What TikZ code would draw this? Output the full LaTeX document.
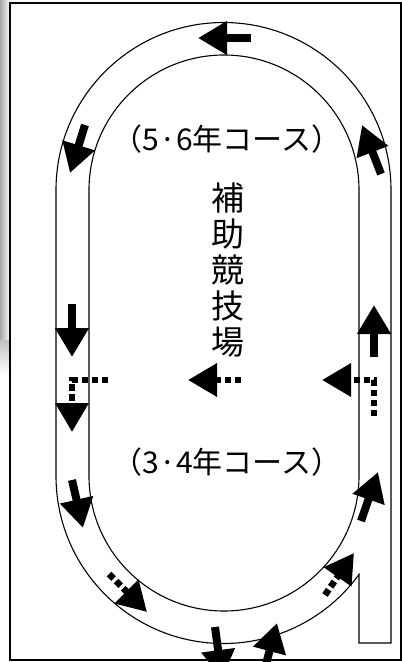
\documentclass[tikz,border=0pt]{standalone}
\usepackage{fontspec}
\newfontfamily\jp{Noto Sans CJK JP}
\usetikzlibrary{arrows.meta}
\tikzset{
  runarrow/.style={line width=8pt,-{Triangle[length=29pt,width=32pt]}},
  dotarrow/.style={line width=6.5pt,dash pattern=on 6.5pt off 3.5pt,-{Triangle[length=29pt,width=32pt]}},
  course/.style={font=\jp\fontsize{30}{36}\selectfont,inner sep=0pt},
}
\begin{document}
\begin{tikzpicture}[x=1pt,y=1pt,yscale=-1,line width=1.1pt]
\useasboundingbox (0,0) rectangle (402,662);
% shadow on the left edge
\shade[left color=black!35,right color=white] (0,0) rectangle (10,340);
\shade[top color=black!25,bottom color=white] (0,340) rectangle (10,375);
% frame
\draw[line width=1.6pt] (10,3) rectangle (401,660);
% track
\draw (391,643) -- (391,190) arc[start angle=0,end angle=-180,radius=167.5] -- (56,476) arc[start angle=180,end angle=36,radius=167.5] -- (359,643) -- cycle;
\draw (359,190) arc[start angle=0,end angle=-180,radius=135] -- (89,476) arc[start angle=180,end angle=0,radius=135] -- cycle;
% labels
\node[course] (upper) at (227,139) {（5·6年コース）};
\node[course] (lower) at (227,462) {（3·4年コース）};
\node[font=\jp\fontsize{33}{36}\selectfont,align=center,inner sep=0pt] (field) at (228,270) {補\\助\\競\\技\\場};
% arrows
\draw[runarrow] (251,38) -- (198,38);
\draw[runarrow] (85,125) -- (70,173);
\draw[runarrow] (381,174) -- (362,125);
\draw[runarrow] (72,304) -- (72,357);
\draw[runarrow] (374,357) -- (374,305);
\draw[runarrow] (72,480) -- (83,528);
\draw[runarrow] (361,521) -- (378,472);
\draw[runarrow] (215,627) -- (222,679);
\draw[runarrow] (265,668) -- (277,623);
\draw[dotarrow] (108,380) -- (72,380) -- (72,432);
\draw[dotarrow] (241,380) -- (188,380);
\draw[dotarrow] (374,416) -- (374,380) -- (322,380);
\draw[dotarrow] (109,574) -- (147,612);
\draw[dotarrow] (325,595) -- (354,553);
\end{tikzpicture}
\end{document}
